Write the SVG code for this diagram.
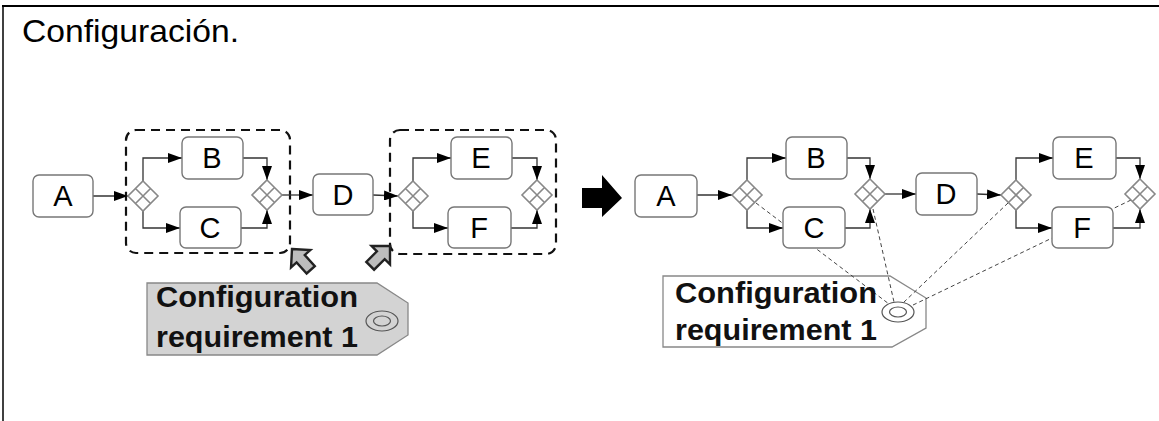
<svg xmlns="http://www.w3.org/2000/svg" width="1159" height="421" viewBox="0 0 1159 421">
<style>
.box{fill:#fff;stroke:#777;stroke-width:1.4}
.lbl{font-family:"Liberation Sans",Arial,sans-serif;font-size:29px;fill:#000;text-anchor:middle}
.con{fill:none;stroke:#333;stroke-width:1.3}
.dash{fill:none;stroke:#444;stroke-width:1;stroke-dasharray:4 3}
.grp{fill:none;stroke:#111;stroke-width:2.2;stroke-dasharray:9 6}
.gw{fill:#fff;stroke:#888;stroke-width:1.6}
.tagt{font-family:"Liberation Sans",Arial,sans-serif;font-weight:bold;font-size:29px;fill:#111}
</style>
<defs>
<marker id="ah" viewBox="0 0 14 10" refX="14" refY="5" markerWidth="14" markerHeight="10" markerUnits="userSpaceOnUse" orient="auto">
<path d="M0,0 L14,5 L0,10 z" fill="#000"/>
</marker>
<g id="gwshape">
<path d="M0,-15 L15,0 L0,15 L-15,0 Z M-7.5,-7.5 L7.5,7.5 M7.5,-7.5 L-7.5,7.5" class="gw"/>
</g>
<path id="garrow" d="M0,0 L13,13 L5.5,13 L5.5,28 L-5.5,28 L-5.5,13 L-13,13 Z" fill="#bdbdbd" stroke="#222" stroke-width="2.4" stroke-linejoin="miter"/>
</defs>
<rect width="1159" height="421" fill="#fff"/>
<g id="frame">
<line x1="2" y1="6" x2="1159" y2="6" stroke="#000" stroke-width="2.2"/>
<line x1="3" y1="5" x2="3" y2="421" stroke="#000" stroke-width="1.5"/>
</g>
<text x="22" y="42" font-family="Liberation Sans,Arial,sans-serif" font-size="32" fill="#000" textLength="217" lengthAdjust="spacingAndGlyphs">Configuración.</text>

<g id="groups">
<rect x="126" y="130" width="164" height="123" rx="10" class="grp"/>
<rect x="390" y="130" width="166" height="124" rx="10" class="grp"/>
</g>

<polygon id="tag2bg" points="663,276 890,276 926,298 926,328 892,347 663,347" fill="#fff" stroke="#888" stroke-width="1.3"/>

<g id="connectors">
<path class="con" marker-end="url(#ah)" d="M93,196 L128,196"/>
<path class="con" marker-end="url(#ah)" d="M143,181 L143,158 L182,158"/>
<path class="con" marker-end="url(#ah)" d="M143,211 L143,228 L180,228"/>
<path class="con" marker-end="url(#ah)" d="M243,158 L267,158 L267,180"/>
<path class="con" marker-end="url(#ah)" d="M241,228 L267,228 L267,210"/>
<path class="con" marker-end="url(#ah)" d="M282,195 L313,195"/>
<path class="con" marker-end="url(#ah)" d="M373,195 L398,196"/>
<path class="con" marker-end="url(#ah)" d="M413,181 L413,158 L451,158"/>
<path class="con" marker-end="url(#ah)" d="M413,211 L413,228 L448,228"/>
<path class="con" marker-end="url(#ah)" d="M512,158 L537,158 L537,180"/>
<path class="con" marker-end="url(#ah)" d="M511,228 L537,228 L537,210"/>

<path class="con" marker-end="url(#ah)" d="M697,195 L732,195"/>
<path class="con" marker-end="url(#ah)" d="M747,180 L747,158 L786,158"/>
<path class="con" marker-end="url(#ah)" d="M747,210 L747,228 L783,228"/>
<path class="con" marker-end="url(#ah)" d="M847,158 L870,158 L870,179"/>
<path class="con" marker-end="url(#ah)" d="M845,228 L870,228 L870,209"/>
<path class="con" marker-end="url(#ah)" d="M885,194 L916,194"/>
<path class="con" marker-end="url(#ah)" d="M977,194 L1001,195"/>
<path class="con" marker-end="url(#ah)" d="M1016,180 L1016,158 L1053,158"/>
<path class="con" marker-end="url(#ah)" d="M1016,210 L1016,228 L1052,228"/>
<path class="con" marker-end="url(#ah)" d="M1116,158 L1140,158 L1140,179"/>
<path class="con" marker-end="url(#ah)" d="M1113,228 L1140,228 L1140,209"/>

<path class="dash" d="M756,203 L889,304"/>
<path class="dash" d="M873,209 L894,302"/>
<path class="dash" d="M1008,203 L903,303"/>
<path class="dash" d="M1131,200 L911,306"/>
</g>

<g id="nodeA1"><rect class="box" x="33" y="175" width="60" height="42" rx="6"/><text class="lbl" x="63" y="206">A</text></g>
<g id="gw1"><use href="#gwshape" x="143" y="196"/></g>
<g id="nodeB1"><rect class="box" x="182" y="137" width="61" height="42" rx="6"/><text class="lbl" x="212" y="168">B</text></g>
<g id="nodeC1"><rect class="box" x="180" y="207" width="61" height="41" rx="6"/><text class="lbl" x="210" y="238">C</text></g>
<g id="gw2"><use href="#gwshape" x="267" y="195"/></g>
<g id="nodeD1"><rect class="box" x="313" y="174" width="60" height="41" rx="6"/><text class="lbl" x="343" y="205">D</text></g>
<g id="gw3"><use href="#gwshape" x="413" y="196"/></g>
<g id="nodeE1"><rect class="box" x="451" y="137" width="61" height="42" rx="6"/><text class="lbl" x="481" y="168">E</text></g>
<g id="nodeF1"><rect class="box" x="448" y="207" width="63" height="41" rx="6"/><text class="lbl" x="479" y="238">F</text></g>
<g id="gw4"><use href="#gwshape" x="537" y="195"/></g>

<g id="pointers">
<use href="#garrow" transform="translate(292,249) rotate(-42)"/>
<use href="#garrow" transform="translate(390,246) rotate(45)"/>
</g>

<g id="tag1">
<polygon points="147,283 377,283 408,303 408,335 377,355 147,355" fill="#d3d3d3" stroke="#888" stroke-width="1.3"/>
<ellipse cx="382" cy="321" rx="16" ry="10" fill="none" stroke="#555" stroke-width="1.2"/>
<ellipse cx="382" cy="321" rx="8.5" ry="5" fill="none" stroke="#555" stroke-width="1.2"/>
<text class="tagt" x="156" y="307" textLength="202" lengthAdjust="spacingAndGlyphs">Configuration</text>
<text class="tagt" x="156" y="347" textLength="202" lengthAdjust="spacingAndGlyphs">requirement 1</text>
</g>

<g id="bigarrow">
<polygon points="582,188 602,188 602,175 622,198 602,217 602,208 582,208" fill="#000"/>
</g>

<g id="nodeA2"><rect class="box" x="635" y="175" width="62" height="42" rx="6"/><text class="lbl" x="666" y="206">A</text></g>
<g id="gw5"><use href="#gwshape" x="747" y="195"/></g>
<g id="nodeB2"><rect class="box" x="786" y="137" width="61" height="42" rx="6"/><text class="lbl" x="816" y="168">B</text></g>
<g id="nodeC2"><rect class="box" x="783" y="207" width="62" height="41" rx="6"/><text class="lbl" x="814" y="238">C</text></g>
<g id="gw6"><use href="#gwshape" x="870" y="194"/></g>
<g id="nodeD2"><rect class="box" x="916" y="173" width="61" height="42" rx="6"/><text class="lbl" x="946" y="204">D</text></g>
<g id="gw7"><use href="#gwshape" x="1016" y="195"/></g>
<g id="nodeE2"><rect class="box" x="1053" y="137" width="63" height="42" rx="6"/><text class="lbl" x="1084" y="168">E</text></g>
<g id="nodeF2"><rect class="box" x="1052" y="207" width="61" height="41" rx="6"/><text class="lbl" x="1082" y="238">F</text></g>
<g id="gw8"><use href="#gwshape" x="1140" y="194"/></g>

<g id="tag2">
<ellipse cx="898" cy="312" rx="16" ry="10" fill="#fff" stroke="#555" stroke-width="1.2"/>
<ellipse cx="898" cy="312" rx="8.5" ry="5" fill="none" stroke="#555" stroke-width="1.2"/>
<text class="tagt" x="675" y="303" textLength="202" lengthAdjust="spacingAndGlyphs">Configuration</text>
<text class="tagt" x="675" y="340" textLength="202" lengthAdjust="spacingAndGlyphs">requirement 1</text>
</g>
</svg>
